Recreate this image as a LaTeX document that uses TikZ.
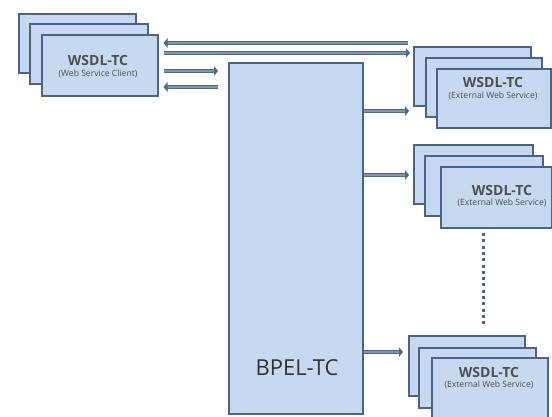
\documentclass[tikz,border=0pt]{standalone}
\usepackage{fontspec}
\setmainfont{Open Sans}
\usetikzlibrary{arrows.meta,calc}
\definecolor{boxfill}{HTML}{C6D9F0}
\definecolor{boxline}{HTML}{4A6485}
\definecolor{arrline}{HTML}{4F6888}
\definecolor{arrin}{HTML}{7F95B2}
\definecolor{txt}{HTML}{3C3C3C}
\begin{document}
\begin{tikzpicture}[x=1pt,y=-1pt,
  card/.style={draw=boxline, line width=1.5pt, fill=boxfill, anchor=north west, inner sep=0pt, minimum width=#1},
  ttl/.style={font=\fontsize{14}{16}\selectfont\bfseries, text=txt!90, inner sep=0pt},
  sub/.style={font=\fontsize{8.6}{10}\selectfont, text=txt!90, inner sep=0pt},
  arr/.style={draw=arrline, line width=1.5pt, double=arrin, double distance=1.8pt, -{Triangle[length=4pt, width=9.5pt]}},
  dots/.style={draw=boxline, line width=3pt, dash pattern=on 3pt off 3.3pt}
]
\useasboundingbox (0,0) rectangle (552,416);
\fill[white] (0,0) rectangle (552,416);

% left stack (client)
\node[card=117pt, minimum height=59pt] (cb) at (18,13) {};
\node[card=118pt, minimum height=60pt] (cm) at (29,23) {};
\node[card=116pt, minimum height=61pt] (cf) at (41,34) {};
\node[ttl] (ct) at (98,60) {WSDL-TC};
\node[sub] (cs) at (98,74) {(Web Service Client)};

% BPEL
\node[card=134pt, minimum height=351pt] (bp) at (228,62) {};
\node[font=\fontsize{22}{24}\selectfont, text=txt!85!black, inner sep=0pt] (bt) at (297,368) {BPEL-TC};

% stack 1
\node[card=117pt, minimum height=59pt] (ab) at (413,46) {};
\node[card=116pt, minimum height=59pt] (am) at (425,57) {};
\node[card=114pt, minimum height=59pt] (af) at (436,68) {};
\node[ttl] (at1) at (493,82) {WSDL-TC};
\node[sub] (as1) at (493,96) {(External Web Service)};

% stack 2
\node[card=119pt, minimum height=59pt] (eb) at (413,144) {};
\node[card=118pt, minimum height=60pt] (em) at (424,155) {};
\node[card=111pt, minimum height=61pt] (ef) at (440,166) {};
\node[ttl] (et) at (502,190) {WSDL-TC};
\node[sub] (es) at (502,203) {(External Web Service)};

% stack 3
\node[card=116pt, minimum height=60pt] (gb) at (408,335) {};
\node[card=117pt, minimum height=60pt] (gm) at (418,347) {};
\node[card=116pt, minimum height=62pt] (gf) at (431,357) {};
\node[ttl] (gt) at (489,372) {WSDL-TC};
\node[sub] (gs) at (489,385) {(External Web Service)};

% dotted connector between stack 2 and stack 3
\coordinate (d1) at (483,233);
\coordinate (d2) at (483,326);
\draw[dots] (d1) -- (d2);

% client <-> outside lines
\coordinate (l1) at (408,43);
\draw[arr] (l1) -- ($(cf.east |- l1)+(5,0)$);
\draw[arr] ($(cf.east |- 0,53)+(5,0)$) -- ($(ab.west |- 0,53)+(-3,0)$);
\draw[arr] ($(cf.east |- 0,71)+(5,0)$) -- ($(bp.west |- 0,71)+(-10,0)$);
\draw[arr] ($(bp.west |- 0,87)+(-10,0)$) -- ($(cf.east |- 0,87)+(5,0)$);

% BPEL -> external services
\draw[arr] (bp.east |- 0,111) -- ($(ab.west |- 0,111)+(-4,0)$);
\draw[arr] (bp.east |- 0,175) -- ($(eb.west |- 0,175)+(-4,0)$);
\draw[arr] (bp.east |- 0,352) -- ($(gb.west |- 0,352)+(-5,0)$);
\end{tikzpicture}
\end{document}
